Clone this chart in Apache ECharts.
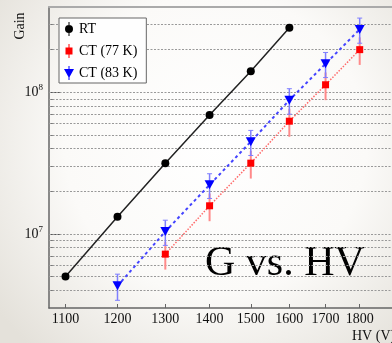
<!DOCTYPE html>
<html>
<head>
<meta charset="utf-8">
<script src="https://cdn.jsdelivr.net/npm/echarts@6/dist/echarts.min.js"></script>
<style>html,body{margin:0;padding:0;background:#fff}#c{width:392px;height:343px}</style>
</head>
<body>
<div id="c"></div>
<script>
// ---- data ----
var xTicks = [1100, 1200, 1300, 1400, 1500, 1600, 1700, 1800];
var yMajorTicks = [1e7, 1e8];
var yMinorTicks = [4e6, 5e6, 6e6, 7e6, 8e6, 9e6, 2e7, 3e7, 4e7, 5e7, 6e7, 7e7, 8e7, 9e7, 2e8, 3e8];
var gridValues = [4e6, 5e6, 6e6, 7e6, 8e6, 9e6, 1e7, 2e7, 3e7, 4e7, 5e7, 6e7, 7e7, 8e7, 9e7, 1e8, 2e8, 3e8];

var rtHV = [1100, 1200, 1300, 1400, 1500, 1600];
var rtGain = [5.0e6, 1.32e7, 3.16e7, 6.9e7, 1.41e8, 2.86e8];

var ct77HV = [1300, 1400, 1500, 1600, 1700, 1800];
var ct77Gain = [7.2e6, 1.58e7, 3.16e7, 6.25e7, 1.13e8, 2.0e8];
var ct77Err = [1.6e6, 3.5e6, 7.0e6, 1.4e7, 2.5e7, 4.4e7];

var ct83HV = [1200, 1300, 1400, 1500, 1600, 1700, 1800];
var ct83Gain = [4.3e6, 1.04e7, 2.22e7, 4.48e7, 8.8e7, 1.59e8, 2.78e8];
var ct83Err = [0.9e6, 2.1e6, 4.4e6, 9.0e6, 1.8e7, 3.2e7, 5.6e7];

function pairs(xs, ys) { return xs.map(function (x, i) { return [x, ys[i]]; }); }
function errs(xs, ys, es) { return xs.map(function (x, i) { return [x, ys[i] - es[i], ys[i] + es[i]]; }); }

var SERIF = 'Liberation Serif';

function errRender(color, width, cap) {
  return function (params, api) {
    var x = api.value(0), lo = api.value(1), hi = api.value(2);
    var p1 = api.coord([x, lo]), p2 = api.coord([x, hi]);
    var ch = [{ type: 'line', shape: { x1: p1[0], y1: p1[1], x2: p2[0], y2: p2[1] },
      style: { stroke: color, lineWidth: width } }];
    if (cap > 0) {
      ch.push({ type: 'line', shape: { x1: p1[0] - cap, y1: p1[1], x2: p1[0] + cap, y2: p1[1] }, style: { stroke: color, lineWidth: 1 } });
      ch.push({ type: 'line', shape: { x1: p2[0] - cap, y1: p2[1], x2: p2[0] + cap, y2: p2[1] }, style: { stroke: color, lineWidth: 1 } });
    }
    return { type: 'group', children: ch };
  };
}

var triDown = 'path://M0,0 L10,0 L5,9 Z';
var legCircle = 'path://M4.5,0L5.5,0L5.5,14L4.5,14Z M1,7A4,4 0 1 1 9,7A4,4 0 1 1 1,7Z';
var legRect = 'path://M4.5,0L5.5,0L5.5,14L4.5,14Z M1.5,3.5L8.5,3.5L8.5,10.5L1.5,10.5Z';
var legTri = 'path://M4.5,0L5.5,0L5.5,14L4.5,14Z M0,3L10,3L5,12Z';

var chart = echarts.init(document.getElementById('c'), null, { renderer: 'canvas' });
chart.setOption({
  animation: false,
  backgroundColor: {
    type: 'radial', x: 0.55, y: 0.42, r: 0.8,
    colorStops: [{ offset: 0, color: '#ffffff' }, { offset: 0.55, color: '#fbfaf8' }, { offset: 1, color: '#e4e1da' }]
  },
  grid: { left: 49, top: 7, right: -20, bottom: 35 },
  legend: {
    orient: 'vertical', left: 59, top: 18,
    padding: [4, 9, 3, 5], itemGap: 8, itemWidth: 10, itemHeight: 14,
    backgroundColor: '#fefefe', borderColor: '#666', borderWidth: 1,
    formatter: function (n) { return '{a|' + n + '}'; },
    textStyle: { fontFamily: SERIF, fontSize: 14, color: '#000',
      rich: { a: { fontFamily: SERIF, fontSize: 14, color: '#000' } } },
    data: [
      { name: 'RT', icon: legCircle },
      { name: 'CT (77 K)', icon: legRect },
      { name: 'CT (83 K)', icon: legTri }
    ]
  },
  xAxis: [{
    type: 'log', min: 1070, max: 1900,
    axisLine: { lineStyle: { color: '#666', width: 1.5 } },
    axisTick: { inside: true, length: 4, customValues: xTicks, lineStyle: { color: '#666' } },
    axisLabel: { customValues: xTicks, fontFamily: SERIF, fontSize: 14, color: '#111', margin: 4,
      formatter: function (v) { return String(Math.round(v)); } },
    splitLine: { show: false }, minorTick: { show: false }
  }, {
    type: 'log', min: 1070, max: 1900, position: 'top',
    axisLine: { lineStyle: { color: '#aaa', width: 2 } },
    axisTick: { show: false }, axisLabel: { show: false }, splitLine: { show: false }
  }],
  yAxis: [{
    type: 'log', min: 3e6, max: 4e8,
    axisLine: { lineStyle: { color: '#666', width: 1.5 } },
    axisTick: { inside: true, length: 11, customValues: yMajorTicks, lineStyle: { color: '#555' } },
    axisLabel: {
      customValues: yMajorTicks, margin: 6,
      formatter: function (v) { return '{b|10}{s|' + Math.round(Math.log10(v)) + '}'; },
      rich: {
        b: { fontFamily: SERIF, fontSize: 14, color: '#111' },
        s: { fontFamily: SERIF, fontSize: 9, color: '#111', padding: [0, 0, 9, 0] }
      }
    },
    splitLine: { show: false }
  }, {
    type: 'log', min: 3e6, max: 4e8, position: 'left',
    axisLine: { show: false },
    axisTick: { inside: true, length: 5, customValues: yMinorTicks, lineStyle: { color: '#777' } },
    axisLabel: { show: false }, splitLine: { show: false }
  }],
  graphic: [
    { type: 'text', x: 20, y: 26, rotation: Math.PI / 2,
      style: { text: 'Gain', font: '14px ' + SERIF, fill: '#111', textAlign: 'center', textVerticalAlign: 'middle' } },
    { type: 'text', left: 352, top: 329,
      style: { text: 'HV (V)', font: '14px ' + SERIF, fill: '#111' } },
    { type: 'text', left: 205, top: 243,
      style: { text: 'G vs. HV', font: '42px ' + SERIF, fill: '#000' } }
  ],
  series: [
    {
      name: 'RT', type: 'line', data: pairs(rtHV, rtGain), z: 5,
      symbol: 'circle', symbolSize: 8,
      itemStyle: { color: '#000' }, lineStyle: { color: '#222', width: 1.5 },
      markLine: {
        silent: true, symbol: 'none', label: { show: false }, z: 1,
        lineStyle: { color: '#999', width: 1, type: [2, 1.5] },
        data: gridValues.map(function (v) { return { yAxis: v }; })
      }
    },
    {
      name: 'CT (77 K)', type: 'line', data: pairs(ct77HV, ct77Gain), z: 4,
      symbol: 'rect', symbolSize: 7,
      itemStyle: { color: '#ff0000' }, lineStyle: { color: '#ff6a6a', width: 1.5, type: [1.5, 1.5] }
    },
    {
      name: 'CT (83 K)', type: 'line', data: pairs(ct83HV, ct83Gain), z: 6,
      symbol: triDown, symbolSize: [10, 9],
      itemStyle: { color: '#0000ff' }, lineStyle: { color: '#4444ff', width: 2, type: [3, 3] }
    },
    {
      type: 'custom', name: 'e77', data: errs(ct77HV, ct77Gain, ct77Err), z: 3,
      encode: { x: 0, y: [1, 2] }, renderItem: errRender('#ff8a8a', 2, 0)
    },
    {
      type: 'custom', name: 'e83', data: errs(ct83HV, ct83Gain, ct83Err), z: 3,
      encode: { x: 0, y: [1, 2] }, renderItem: errRender('#7f7fff', 1.5, 2.5)
    }
  ]
});
</script>
</body>
</html>
